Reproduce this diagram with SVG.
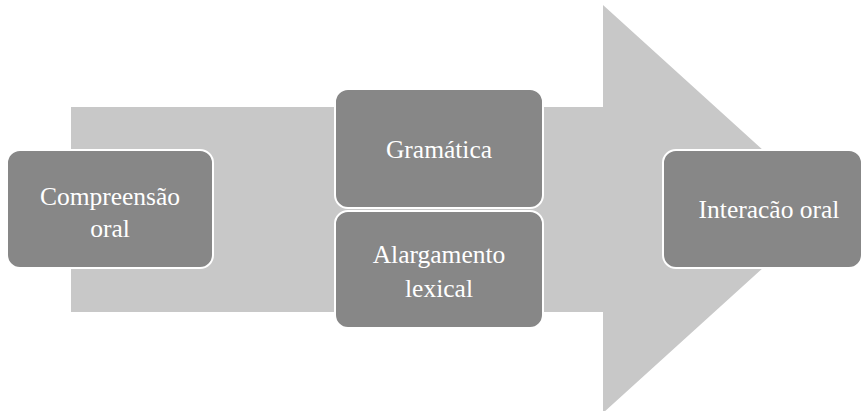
<svg xmlns="http://www.w3.org/2000/svg" width="863" height="411" viewBox="0 0 863 411">
<style>
.arrow{fill:#c8c8c8}
.box{fill:#878787;stroke:#ffffff;stroke-width:2}
.lbl{font-size:25.5px;fill:#ffffff;text-anchor:middle}
</style>
<rect width="863" height="411" fill="#ffffff"/>
<g id="connectors">
<path class="arrow" d="M71,107 H603 V5 L828,209 L603,413 V312 H71 Z"/>
</g>
<g font-family="Liberation Serif, Times New Roman, DejaVu Serif, serif">
<g id="node-compreensao">
<rect class="box" x="7" y="150" width="206" height="118" rx="13"/>
<text class="lbl" x="110" y="205">Compreensão</text>
<text class="lbl" x="110" y="237">oral</text>
</g>
<g id="node-gramatica">
<rect class="box" x="335" y="89" width="208" height="119" rx="13"/>
<text class="lbl" x="439" y="158">Gramática</text>
</g>
<g id="node-alargamento">
<rect class="box" x="335" y="211" width="208" height="117" rx="13"/>
<text class="lbl" x="439" y="263">Alargamento</text>
<text class="lbl" x="439" y="297">lexical</text>
</g>
<g id="node-interacao">
<rect class="box" x="663" y="150" width="199" height="118" rx="13"/>
<text class="lbl" x="769" y="218">Interacão oral</text>
</g>
</g>
</svg>
